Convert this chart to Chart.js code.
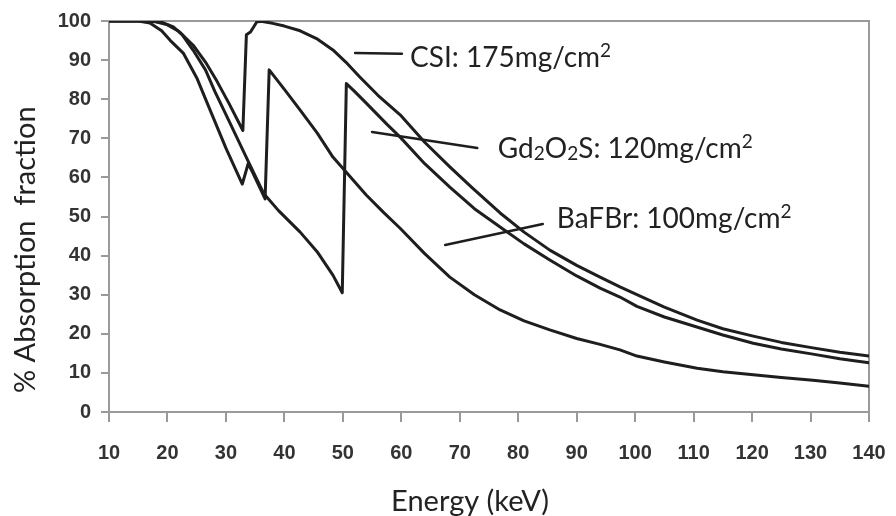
<!DOCTYPE html>
<html><head><meta charset="utf-8">
<script src="https://cdn.jsdelivr.net/npm/chart.js@4.4.1/dist/chart.umd.min.js"></script>
<style>html,body{margin:0;padding:0;background:#fff}#wrap{width:896px;height:516px}</style>
</head><body><div id="wrap"><canvas id="c" width="896" height="516"></canvas></div>
<script>
// ---- tick labels ----
const xTickValues = [10,20,30,40,50,60,70,80,90,100,110,120,130,140];
const yTickValues = [0,10,20,30,40,50,60,70,80,90,100];

// ---- CsI: 175 mg/cm2 ----
const csiEnergy = [10,16,18,20,22,24.4,26.5,28.5,30.5,32.9,33.5,34.2,35.3,36,38,40,42.7,45.5,48.3,50.5,52.9,56,59.8,64,68.3,72,76.9,81,85.4,90,94,97.4,100.3,105,110.6,115,120.2,125,130.4,135,140];
const csiAbs    = [100,100,99.8,99,97.3,93.8,89.5,84.5,79,72,96.5,97.2,99.8,99.9,99.4,98.7,97.5,95.5,92.6,89.5,85.7,81,76,69,62.7,57.5,50.9,46,41.4,37.5,34.5,32,30,26.8,23.5,21.3,19.4,17.8,16.4,15.3,14.3];

// ---- Gd2O2S: 120 mg/cm2 ----
const gdEnergy = [10,17,19,21,22.5,24.4,26.5,28.1,30.5,32.9,34,36.5,39,42.7,45.6,48.3,49.9,50.6,52,54,57.6,59.8,64,68.3,72.5,76.9,81,85.4,90,94,97.4,100.3,105,110,115,120.2,125,130.4,135,140];
const gdAbs    = [100,100,99.7,98.5,96.5,92.5,87.5,82,74.5,67,63.5,55.8,51.5,46,41,35,30.5,84,82,79,73.5,70.3,63.5,57.5,52,47.3,43,38.9,34.8,31.7,29.4,27,24.3,22,19.7,17.6,16.1,14.8,13.6,12.6];

// ---- BaFBr: 100 mg/cm2 ----
const baEnergy = [10,15,17,19,20.5,22.7,25,27.3,30,32.8,33.8,34.5,36.7,37.4,40,42.7,45.6,48.3,50.7,54,57,59.8,64,68.3,72.5,76.9,81,85.4,90,94,97.4,100.3,105,110.6,115,120.2,125,130.4,135,140];
const baAbs    = [100,100,99.5,97.5,95,91.8,85.5,77.2,67.5,58.3,63.5,61.5,54.5,87.5,82.5,77.2,71.4,65.2,61.1,55.5,51,47,40.5,34.5,30,26.1,23.3,21,18.8,17.3,15.9,14.3,12.8,11.2,10.3,9.5,8.8,8.1,7.4,6.6];

// ---- annotation labels (anchored in data coordinates) ----
const labelTexts = [
  [{t:'CSI: 175mg/cm'},{t:'2',sup:true}],
  [{t:'Gd'},{t:'2',sub:true},{t:'O'},{t:'2',sub:true},{t:'S: 120mg/cm'},{t:'2',sup:true}],
  [{t:'BaFBr: 100mg/cm'},{t:'2',sup:true}]
];
const labelAnchors = [[61.5,88.2],[76.5,65.0],[86.6,47.1]];
const leaderStarts = [[52.1,91.8],[55.0,71.6],[67.5,42.7]];
const leaderEnds   = [[60.1,91.6],[73.0,67.5],[84.2,48.1]];

const xTitle = 'Energy (keV)';
const yTitle = '% Absorption  fraction';

const toPts = (xs, ys) => xs.map((x,i)=>({x:x,y:ys[i]}));
const lineColor = '#1e1e1e';
const axisColor = '#9a9a9a';
const textFont = 'Lato, "Open Sans", sans-serif';

function ds(label, xs, ys){
  return {label, data: toPts(xs,ys), borderColor: lineColor, borderWidth: 3,
    pointRadius: 0, tension: 0, fill: false, borderJoinStyle:'round', borderCapStyle:'round'};
}

const framePlugin = {
  id:'frame',
  beforeDatasetsDraw(chart){
    const {ctx, chartArea:a} = chart;
    ctx.save();
    ctx.strokeStyle = axisColor; ctx.lineWidth = 2;
    ctx.beginPath();
    ctx.moveTo(a.left, a.top); ctx.lineTo(a.right, a.top); ctx.lineTo(a.right, a.bottom);
    ctx.stroke();
    ctx.restore();
  }
};

function drawRuns(ctx, x, y, runs, size){
  let cx = x;
  runs.forEach(r=>{
    let fs = size, dy = 0;
    if (r.sub){ fs = size*0.68; dy = size*0.08; }
    if (r.sup){ fs = size*0.68; dy = -size*0.36; }
    ctx.font = fs + 'px ' + textFont;
    ctx.fillText(r.t, cx, y+dy);
    cx += ctx.measureText(r.t).width;
  });
}

const annotPlugin = {
  id:'annot',
  afterDatasetsDraw(chart){
    const {ctx, scales:{x, y}} = chart;
    ctx.save();
    ctx.strokeStyle = lineColor; ctx.lineWidth = 2.5; ctx.lineCap='round';
    leaderStarts.forEach((s,i)=>{
      const e = leaderEnds[i];
      ctx.beginPath();
      ctx.moveTo(x.getPixelForValue(s[0]), y.getPixelForValue(s[1]));
      ctx.lineTo(x.getPixelForValue(e[0]), y.getPixelForValue(e[1]));
      ctx.stroke();
    });
    ctx.fillStyle = '#222';
    ctx.textBaseline = 'alphabetic'; ctx.textAlign='left';
    labelTexts.forEach((runs,i)=>{
      drawRuns(ctx, x.getPixelForValue(labelAnchors[i][0]), y.getPixelForValue(labelAnchors[i][1]), runs, 28);
    });
    // axis titles
    ctx.font = '29px ' + textFont;
    ctx.textAlign = 'center'; ctx.textBaseline = 'alphabetic';
    ctx.fillText(xTitle, x.getPixelForValue(71.75), 511);
    ctx.save();
    ctx.translate(35, y.getPixelForValue(41.5));
    ctx.rotate(-Math.PI/2);
    ctx.fillText(yTitle, 0, 0);
    ctx.restore();
    ctx.restore();
  }
};

new Chart(document.getElementById('c'), {
  type:'line',
  data:{ datasets:[ ds('CSI: 175mg/cm²', csiEnergy, csiAbs), ds('Gd₂O₂S: 120mg/cm²', gdEnergy, gdAbs), ds('BaFBr: 100mg/cm²', baEnergy, baAbs) ] },
  options:{
    responsive:false, animation:false, devicePixelRatio:1,
    layout:{ padding:{ top:21, right:27, left:0, bottom:0 } },
    plugins:{ legend:{display:false}, tooltip:{enabled:false} },
    scales:{
      x:{ type:'linear', min:10, max:140,
        afterBuildTicks: s => { s.ticks = xTickValues.map(v=>({value:v})); },
        afterFit: s => { s.height = 104; s.paddingLeft = 0; s.paddingRight = 0; },
        ticks:{ font:{ family:'"Liberation Sans", Arial, sans-serif', size:20, weight:'bold' }, color:'#333', padding:19, maxRotation:0, autoSkip:false },
        grid:{ drawOnChartArea:false, drawTicks:true, tickLength:10, color:axisColor, lineWidth:2 },
        border:{ display:true, color:axisColor, width:2 }
      },
      y:{ type:'linear', min:0, max:100,
        afterBuildTicks: s => { s.ticks = yTickValues.map(v=>({value:v})); },
        afterFit: s => { s.width = 109; s.paddingTop = 0; s.paddingBottom = 0; },
        ticks:{ font:{ family:'"Liberation Sans", Arial, sans-serif', size:20, weight:'bold' }, color:'#333', padding:10, autoSkip:false },
        grid:{ drawOnChartArea:false, drawTicks:true, tickLength:8, color:axisColor, lineWidth:2 },
        border:{ display:true, color:axisColor, width:2 }
      }
    }
  },
  plugins:[framePlugin, annotPlugin]
});
</script>
</body></html>
